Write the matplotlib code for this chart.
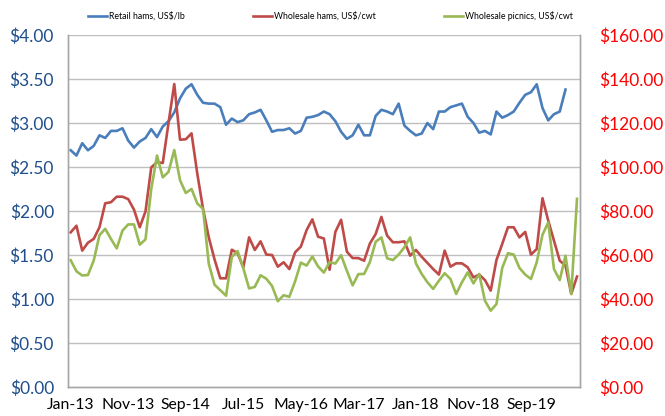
import numpy as np
import matplotlib
matplotlib.use("Agg")
import matplotlib.pyplot as plt
from matplotlib.ticker import FuncFormatter

plt.rcParams['font.family'] = ['Lato', 'DejaVu Sans']

# monthly, Jan-13 .. May-20
months = 89
tick_pos = [0, 10, 20, 30, 40, 50, 60, 70, 80]
tick_labels = ["Jan-13", "Nov-13", "Sep-14", "Jul-15", "May-16",
               "Mar-17", "Jan-18", "Nov-18", "Sep-19"]

# retail hams, US$/lb (left axis), ends Mar-20
retail = [2.69, 2.63, 2.77, 2.69, 2.74, 2.86, 2.83, 2.91, 2.91, 2.94,
          2.80, 2.72, 2.79, 2.83, 2.93, 2.84, 2.96, 3.02, 3.12, 3.28,
          3.39, 3.44, 3.32, 3.23, 3.22, 3.22, 3.18, 2.98, 3.05, 3.01,
          3.03, 3.10, 3.12, 3.15, 3.03, 2.90, 2.92, 2.92, 2.94, 2.88,
          2.91, 3.06, 3.07, 3.09, 3.13, 3.10, 3.02, 2.90, 2.82, 2.86,
          2.98, 2.86, 2.86, 3.08, 3.15, 3.13, 3.10, 3.22, 2.97, 2.91,
          2.86, 2.88, 3.00, 2.93, 3.13, 3.13, 3.18, 3.20, 3.22, 3.07,
          3.00, 2.89, 2.91, 2.87, 3.13, 3.06, 3.09, 3.13, 3.23, 3.32,
          3.35, 3.44, 3.17, 3.03, 3.10, 3.13, 3.38, np.nan, np.nan]

# wholesale hams, US$/cwt (right axis)
wh_hams = [70.3, 73.3, 62.0, 65.6, 67.3, 72.6, 83.5, 84.0, 86.5, 86.5,
           85.4, 80.6, 72.6, 79.8, 99.8, 102.2, 101.8, 120.0, 137.7, 112.4,
           112.6, 115.3, 97.0, 81.0, 68.0, 58.0, 49.4, 49.4, 62.4, 60.8,
           54.4, 68.0, 62.3, 66.2, 60.2, 60.0, 54.7, 56.7, 53.6, 61.2,
           63.8, 71.3, 76.2, 68.3, 67.5, 53.3, 70.5, 76.0, 61.5, 58.6,
           58.6, 57.4, 65.2, 69.5, 77.3, 68.8, 65.8, 65.8, 66.2, 59.7,
           62.3, 59.2, 56.4, 53.6, 51.1, 62.0, 54.7, 56.2, 56.2, 54.4,
           49.8, 51.1, 48.6, 43.8, 57.7, 65.0, 72.6, 72.6, 68.0, 70.5,
           60.2, 62.7, 85.8, 75.6, 66.5, 57.4, 55.2, 42.3, 50.2]

# wholesale picnics, US$/cwt (right axis)
wh_picnics = [57.6, 52.6, 50.7, 50.9, 57.5, 69.0, 71.9, 67.3, 63.0, 71.1,
              73.9, 73.9, 64.7, 67.1, 90.0, 105.2, 95.3, 97.8, 107.7, 94.0,
              88.2, 90.0, 83.4, 81.0, 56.0, 46.5, 44.0, 41.5, 59.1, 61.8,
              54.0, 44.8, 45.5, 50.8, 49.2, 45.9, 39.0, 41.7, 41.0, 48.0,
              56.5, 55.2, 59.3, 54.8, 52.0, 56.8, 56.1, 59.9, 52.8, 46.2,
              51.3, 51.4, 56.8, 66.0, 68.0, 58.5, 57.7, 60.2, 63.5, 68.0,
              56.2, 51.4, 47.6, 44.6, 48.3, 51.7, 49.1, 42.3, 47.6, 52.1,
              47.1, 51.4, 39.2, 34.7, 37.7, 54.1, 60.8, 60.2, 54.1, 51.1,
              49.1, 56.7, 69.2, 74.8, 53.6, 48.6, 59.7, 42.3, 85.5]

x = np.arange(months)

fig = plt.figure(figsize=(6.65, 4.16), dpi=100)
ax = fig.add_axes([0.102, 0.0697, 0.770, 0.8462])
ax2 = ax.twinx()

grid_c = "#BFBFBF"
for v in np.arange(0.5, 4.01, 0.5):
    ax.axhline(v, color=grid_c, lw=1.0, zorder=0)

l1, = ax.plot(x, retail, color="#4A7EBB", lw=1.9, label="Retail hams, US$/lb")
l2, = ax2.plot(x, wh_hams, color="#BE4B48", lw=1.9, label="Wholesale hams, US$/cwt")
l3, = ax2.plot(x, wh_picnics, color="#98B954", lw=1.9, label="Wholesale picnics, US$/cwt")

ax.set_xlim(-0.5, months - 0.5)
ax.set_ylim(0, 4)
ax2.set_ylim(0, 160)
ax.set_yticks(np.arange(0, 4.01, 0.5))
ax2.set_yticks(np.arange(0, 160.1, 20))
ax.yaxis.set_major_formatter(FuncFormatter(lambda v, p: "${:.2f}".format(v)))
ax2.yaxis.set_major_formatter(FuncFormatter(lambda v, p: "${:.2f}".format(v)))
ax.set_xticks(tick_pos)
ax.set_xticklabels(tick_labels)

ax.tick_params(axis='x', length=0, pad=8, labelsize=11.3, labelcolor="black")
ax.tick_params(axis='y', length=0, pad=10, labelsize=12.5, labelcolor="#1F4E8C")
ax2.tick_params(axis='y', length=0, pad=14, labelsize=12.5, labelcolor="#FF0000")

for a in (ax, ax2):
    for s in a.spines.values():
        s.set_color("#A6A6A6")
        s.set_linewidth(1.0)
    a.spines['top'].set_visible(False)

fig.legend(handles=[l1, l2, l3], loc='center', bbox_to_anchor=(0.497, 0.962),
           ncol=3, frameon=False, fontsize=6.3, handlelength=2.2,
           handletextpad=0.2, columnspacing=7.8)

fig.savefig("out.png", dpi=100)
